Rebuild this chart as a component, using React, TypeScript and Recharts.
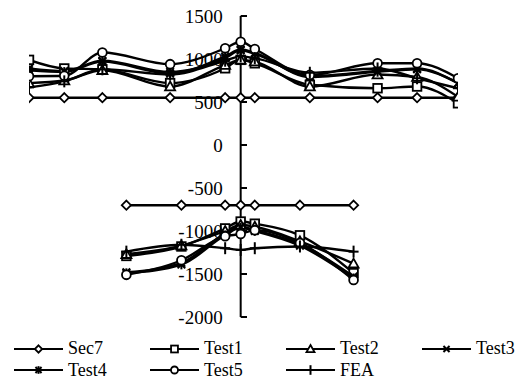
import React from 'react';
import { LineChart, Line, XAxis, YAxis, ReferenceLine, Legend } from 'recharts';

// Positions along the section (x) for the upper and lower groups
const upperX = [-150, -125, -98, -50, -11, 0, 10, 49, 97, 125, 154];
const lowerX = [-81, -42, -11, 0, 10, 42, 80];

const seriesNames = ['Sec7', 'Test1', 'Test2', 'Test3', 'Test4', 'Test5', 'FEA'];

const sec7Upper = [550, 550, 550, 550, 550, 550, 550, 550, 550, 550, 550];
const sec7Lower = [-700, -700, -700, -700, -700, -700, -700];
const test1Upper = [990, 890, 880, 720, 892, 990, 950, 700, 660, 680, 485];
const test1Lower = [-1290, -1180, -970, -890, -915, -1050, -1490];
const test2Upper = [720, 750, 870, 680, 930, 990, 970, 680, 820, 790, 560];
const test2Lower = [-1270, -1170, -1000, -930, -950, -1120, -1380];
const test3Upper = [890, 860, 980, 850, 1010, 1100, 1060, 800, 860, 890, 720];
const test3Lower = [-1480, -1370, -1030, -950, -990, -1150, -1530];
const test4Upper = [870, 850, 970, 830, 1030, 1110, 1070, 790, 850, 880, 720];
const test4Lower = [-1490, -1390, -1050, -960, -1000, -1170, -1550];
const test5Upper = [800, 805, 1075, 940, 1124, 1200, 1116, 815, 950, 950, 776];
const test5Lower = [-1510, -1340, -1060, -1035, -990, -1140, -1570];
const feaUpper = [670, 740, 880, 820, 980, 1030, 1010, 840, 890, 776, 660];
const feaLower = [-1240, -1160, -1200, -1220, -1200, -1180, -1240];

const yTicks = [1500, 1000, 500, 0, -500, -1000, -1500, -2000];

const shapes = ['diamond', 'square', 'triangle', 'x', 'star', 'circle', 'plus'];
const uppers = [sec7Upper, test1Upper, test2Upper, test3Upper, test4Upper, test5Upper, feaUpper];
const lowers = [sec7Lower, test1Lower, test2Lower, test3Lower, test4Lower, test5Lower, feaLower];

const FONT = '"Times New Roman", "Liberation Serif", Tinos, Times, "DejaVu Serif", serif';

const buildData = (up: number[], lo: number[]) => [
  ...up.map((y, i) => ({ x: upperX[i], y })),
  { x: lowerX[0], y: null },
  ...lo.map((y, i) => ({ x: lowerX[i], y })),
];

const series = seriesNames.map((name, i) => ({
  name,
  shape: shapes[i],
  data: buildData(uppers[i], lowers[i]),
}));

function Marker({ shape, cx, cy, s = 1 }: { shape: string; cx: number; cy: number; s?: number }) {
  const sw = 1.8;
  switch (shape) {
    case 'diamond':
      return (
        <polygon
          points={`${cx},${cy - 4.6 * s} ${cx + 4.6 * s},${cy} ${cx},${cy + 4.6 * s} ${cx - 4.6 * s},${cy}`}
          fill="#fff"
          stroke="#000"
          strokeWidth={sw}
        />
      );
    case 'square':
      return (
        <rect x={cx - 4.3 * s} y={cy - 4.3 * s} width={8.6 * s} height={8.6 * s} fill="#fff" stroke="#000" strokeWidth={sw} />
      );
    case 'triangle':
      return (
        <polygon
          points={`${cx},${cy - 5 * s} ${cx + 5 * s},${cy + 3.8 * s} ${cx - 5 * s},${cy + 3.8 * s}`}
          fill="#fff"
          stroke="#000"
          strokeWidth={sw}
        />
      );
    case 'x':
      return (
        <g stroke="#000" strokeWidth={2}>
          <line x1={cx - 3.8 * s} y1={cy - 3.8 * s} x2={cx + 3.8 * s} y2={cy + 3.8 * s} />
          <line x1={cx - 3.8 * s} y1={cy + 3.8 * s} x2={cx + 3.8 * s} y2={cy - 3.8 * s} />
        </g>
      );
    case 'star':
      return (
        <g stroke="#000" strokeWidth={2}>
          <line x1={cx - 3.8 * s} y1={cy - 3.8 * s} x2={cx + 3.8 * s} y2={cy + 3.8 * s} />
          <line x1={cx - 3.8 * s} y1={cy + 3.8 * s} x2={cx + 3.8 * s} y2={cy - 3.8 * s} />
          <line x1={cx} y1={cy - 4.8 * s} x2={cx} y2={cy + 4.8 * s} />
        </g>
      );
    case 'circle':
      return <circle cx={cx} cy={cy} r={4.4 * s} fill="#fff" stroke="#000" strokeWidth={sw} />;
    case 'plus':
    default:
      return (
        <g stroke="#000" strokeWidth={2}>
          <line x1={cx - 5 * s} y1={cy} x2={cx + 5 * s} y2={cy} />
          <line x1={cx} y1={cy - 6 * s} x2={cx} y2={cy + 6 * s} />
        </g>
      );
  }
}

const makeDot = (shape: string, name: string) => (props: any) => {
  const { cx, cy, index, value } = props;
  if (cx == null || cy == null || value == null || Number.isNaN(cx) || Number.isNaN(cy)) {
    return <g key={`${name}-${index}`} />;
  }
  return (
    <g key={`${name}-${index}`}>
      <Marker shape={shape} cx={cx} cy={cy} />
    </g>
  );
};

const renderLegend = () => (
  <div
    style={{
      display: 'flex',
      flexWrap: 'wrap',
      paddingTop: 21,
      paddingLeft: 14,
      width: 560,
      height: 43,
      fontSize: 18,
      fontFamily: FONT,
      color: '#000',
    }}
  >
    {series.map((s) => (
      <div key={s.name} style={{ width: 136, height: 21, display: 'flex', alignItems: 'center' }}>
        <svg width={49} height={14} style={{ display: 'block' }}>
          <line x1={0} y1={7} x2={49} y2={7} stroke="#000" strokeWidth={2.2} />
          <Marker shape={s.shape} cx={24.5} cy={7} s={0.8} />
        </svg>
        <span style={{ marginLeft: 5, lineHeight: '21px' }}>{s.name}</span>
      </div>
    ))}
  </div>
);

export default function App() {
  return (
    <div style={{ position: 'absolute', left: 0, top: 0, width: 520, height: 392, fontFamily: FONT }}>
      <LineChart width={520} height={392} margin={{ top: 16, right: 62, bottom: 11, left: 29 }}>
        <XAxis type="number" dataKey="x" domain={[-150, 154]} allowDataOverflow hide />
        <YAxis type="number" domain={[-2000, 1500]} allowDataOverflow hide />
        <ReferenceLine x={0} stroke="#000" strokeWidth={2} />
        {yTicks.map((v) => (
          <ReferenceLine
            key={`tick-${v}`}
            segment={[
              { x: 0, y: v },
              { x: 4.5, y: v },
            ]}
            stroke="#000"
            strokeWidth={2}
            label={{ value: String(v), position: 'left', offset: 18, fill: '#000', fontSize: 19, fontFamily: FONT }}
          />
        ))}
        {series.map((s) => (
          <Line
            key={s.name}
            name={s.name}
            data={s.data}
            dataKey="y"
            type="monotone"
            stroke="#000"
            strokeWidth={2.4}
            dot={makeDot(s.shape, s.name)}
            activeDot={false}
            isAnimationActive={false}
            connectNulls={false}
          />
        ))}
        <Legend
          verticalAlign="bottom"
          content={renderLegend}
          wrapperStyle={{ left: 0, top: 317, width: 520 }}
        />
      </LineChart>
    </div>
  );
}
